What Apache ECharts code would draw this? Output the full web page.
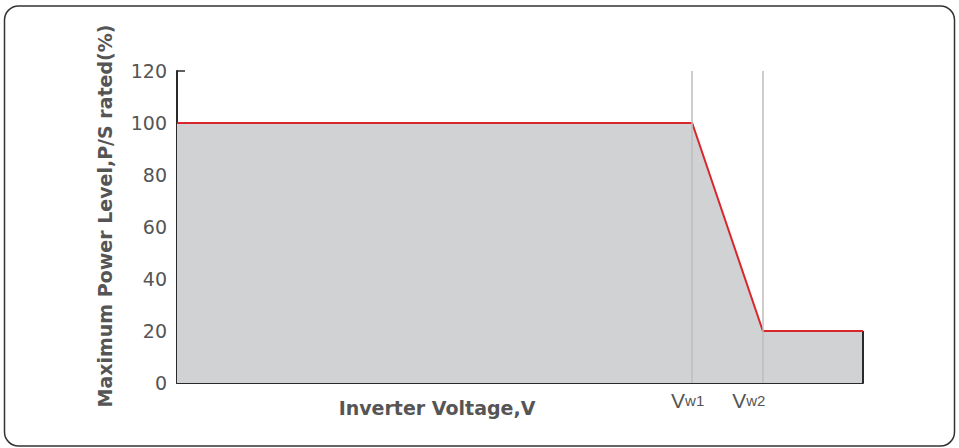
<!DOCTYPE html>
<html>
<head>
<meta charset="utf-8">
<style>
  html, body { margin: 0; padding: 0; background: #ffffff; }
  #chart { width: 959px; height: 448px; }
</style>
<script src="https://cdn.jsdelivr.net/npm/echarts@6/dist/echarts.min.js"></script>
</head>
<body>
<div id="chart"></div>
<script>
// Voltage axis runs on a relative 0–100 scale; Vw1 and Vw2 are the curtailment breakpoints.
const voltageMin = 0;
const voltageMax = 100;
const vw1 = 75.1;
const vw2 = 85.4;

// Volt-watt curve: power limit (% of rated) at each breakpoint voltage
const curveVoltage = [voltageMin, vw1, vw2, voltageMax];
const curvePower = [100, 100, 20, 20];

// Power axis ticks
const powerMin = 0;
const powerMax = 120;
const powerStep = 20;

// Breakpoint labels along the voltage axis: [main letter, subscript]
const breakpointValues = [vw1, vw2];
const breakpointLabels = [['V', 'w1'], ['V', 'w2']];

const xName = 'Inverter Voltage,V';
const yName = 'Maximum Power Level,P/S rated(%)';

const curveData = curveVoltage.map((v, i) => [v, curvePower[i]]);

const chart = echarts.init(document.getElementById('chart'), null, { renderer: 'svg' });

chart.setOption({
  animation: false,
  backgroundColor: '#ffffff',
  graphic: [{
    type: 'rect',
    silent: true,
    shape: { x: 4.5, y: 6, width: 950, height: 440, r: 14 },
    style: { fill: 'none', stroke: '#333333', lineWidth: 1.5 },
    z: 0
  }],
  grid: { left: 177, right: 96, top: 71, bottom: 65, containLabel: false },
  xAxis: {
    type: 'value',
    min: voltageMin,
    max: voltageMax,
    name: xName,
    nameLocation: 'middle',
    nameGap: 15,
    nameMoveOverlap: false,
    nameTextStyle: {
      fontFamily: 'DejaVu Sans',
      fontWeight: 'bold',
      fontSize: 19,
      color: '#555555',
      padding: [0, 166, 0, 0]
    },
    axisLine: { show: true, lineStyle: { color: '#2a2a2a', width: 2 } },
    axisTick: { show: false },
    splitLine: { show: false },
    axisLabel: {
      customValues: breakpointValues,
      margin: 7,
      formatter: function (value) {
        const i = breakpointValues.indexOf(value);
        if (i < 0) return '';
        const lbl = breakpointLabels[i];
        return '{v|' + lbl[0] + '}{s' + i + '|' + lbl[1] + '}';
      },
      rich: {
        v: { fontFamily: 'Liberation Sans', fontSize: 21, color: '#555555' },
        s0: { fontFamily: 'Liberation Sans', fontSize: 15, color: '#555555', padding: [0, 9, 0, 0] },
        s1: { fontFamily: 'Liberation Sans', fontSize: 15, color: '#555555', padding: [0, 28, 0, 0] }
      }
    }
  },
  yAxis: {
    type: 'value',
    min: powerMin,
    max: powerMax,
    interval: powerStep,
    name: yName,
    nameLocation: 'middle',
    nameRotate: 90,
    nameGap: 63,
    nameMoveOverlap: false,
    nameTextStyle: {
      fontFamily: 'DejaVu Sans',
      fontWeight: 'bold',
      fontSize: 19,
      color: '#555555',
      padding: [0, 0, 0, 22]
    },
    axisLine: { show: true, lineStyle: { color: '#2a2a2a', width: 2 } },
    axisTick: { show: true, inside: true, length: 8, lineStyle: { color: '#2a2a2a', width: 1.5 } },
    splitLine: { show: false },
    axisLabel: {
      fontFamily: 'DejaVu Sans',
      fontSize: 19,
      color: '#555555',
      margin: 10
    }
  },
  series: [
    {
      // shaded region under the curve
      type: 'line',
      data: curveData,
      symbol: 'none',
      lineStyle: { width: 0 },
      areaStyle: { color: '#d1d2d4', opacity: 1 },
      z: 1,
      silent: true
    },
    {
      // vertical guides at the breakpoints
      type: 'line',
      data: [],
      z: 2,
      silent: true,
      markLine: {
        silent: true,
        symbol: 'none',
        label: { show: false },
        lineStyle: { color: '#bdbdbd', width: 1.5, type: 'solid' },
        data: breakpointValues.map(v => ({ xAxis: v }))
      }
    },
    {
      // right-hand edge of the shaded region
      type: 'line',
      data: [[voltageMax, powerMin], [voltageMax, curvePower[curvePower.length - 1]]],
      symbol: 'none',
      lineStyle: { color: '#2a2a2a', width: 2 },
      z: 3,
      silent: true
    },
    {
      // power limit curve
      type: 'line',
      data: curveData,
      symbol: 'none',
      lineStyle: { color: '#d8262c', width: 2 },
      z: 4,
      silent: true
    }
  ]
});
</script>
</body>
</html>
